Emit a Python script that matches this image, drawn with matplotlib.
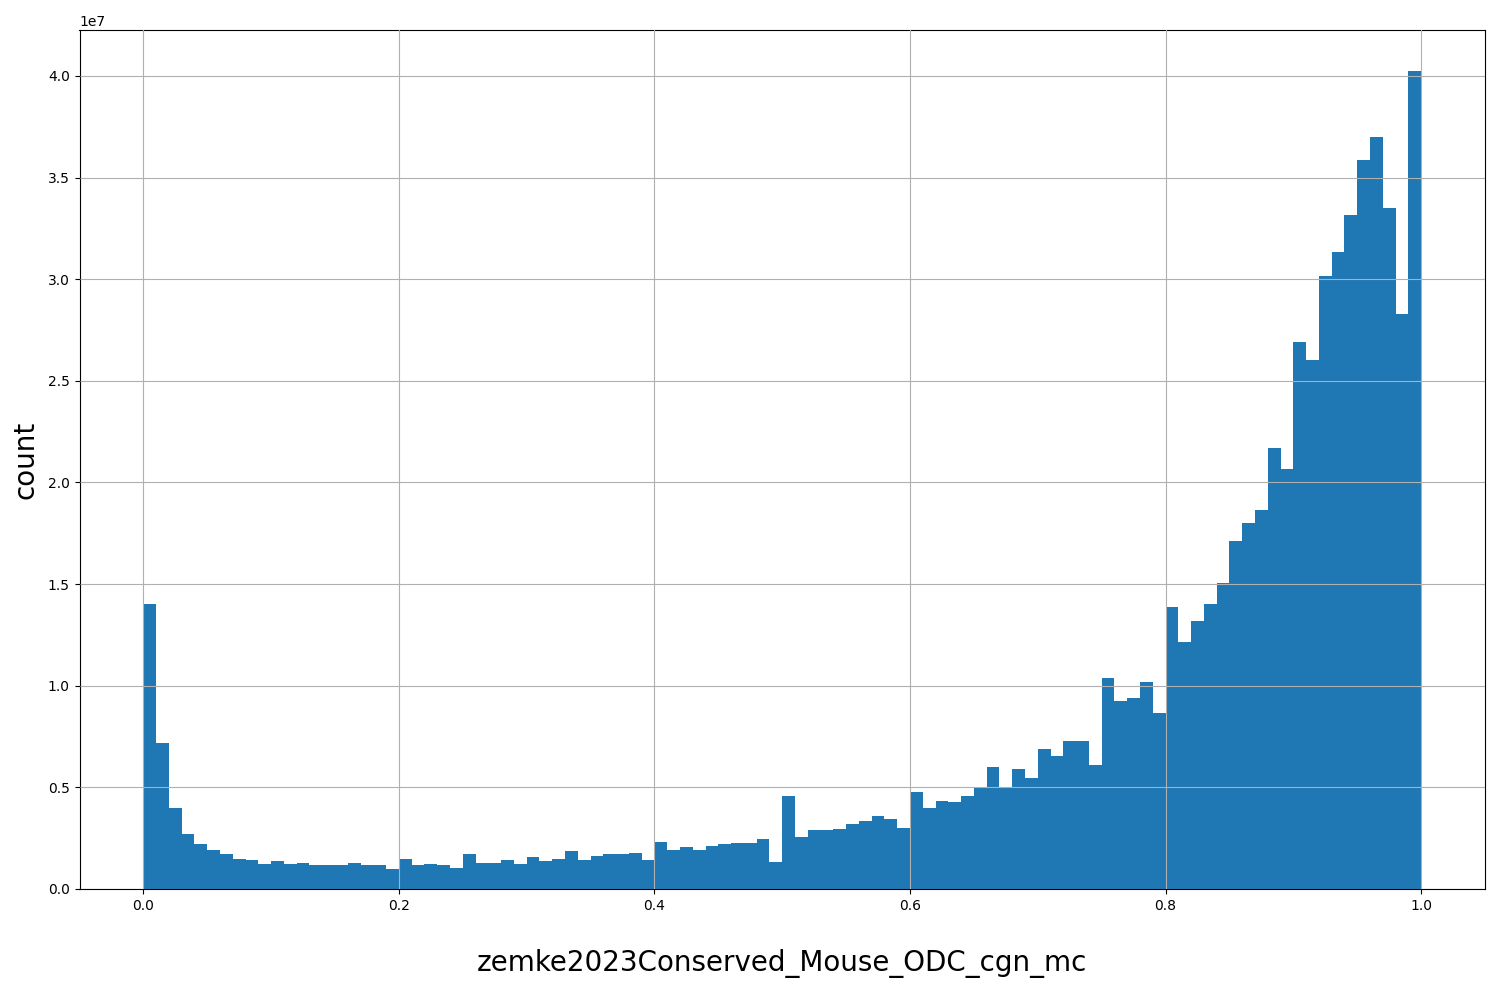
import numpy as np
import matplotlib
matplotlib.use("Agg")
import matplotlib.pyplot as plt

edges = np.linspace(0, 1, 101)
# bar heights in units of 1e7
heights = [
    1.40, 0.72, 0.40, 0.27, 0.22, 0.19, 0.17, 0.15, 0.145, 0.125,
    0.14, 0.125, 0.13, 0.12, 0.12, 0.12, 0.13, 0.12, 0.12, 0.10,
    0.15, 0.12, 0.125, 0.12, 0.105, 0.17, 0.13, 0.13, 0.145, 0.125,
    0.155, 0.14, 0.15, 0.185, 0.145, 0.16, 0.17, 0.17, 0.175, 0.145,
    0.23, 0.19, 0.205, 0.19, 0.21, 0.22, 0.225, 0.225, 0.245, 0.135,
    0.46, 0.255, 0.29, 0.29, 0.295, 0.32, 0.335, 0.36, 0.345, 0.30,
    0.475, 0.40, 0.435, 0.43, 0.46, 0.50, 0.60, 0.50, 0.59, 0.545,
    0.69, 0.655, 0.73, 0.73, 0.61, 1.04, 0.925, 0.94, 1.02, 0.865,
    1.385, 1.215, 1.32, 1.40, 1.505, 1.71, 1.80, 1.865, 2.17, 2.065,
    2.69, 2.605, 3.015, 3.135, 3.315, 3.585, 3.70, 3.35, 2.83, 4.025,
]
counts = np.array(heights) * 1e7
centers = (edges[:-1] + edges[1:]) / 2

fig, ax = plt.subplots(figsize=(15, 10), dpi=100)
fig.subplots_adjust(left=0.053, right=0.99, top=0.97, bottom=0.111)
ax.hist(centers, bins=edges, weights=counts, color="#1f77b4")
ax.grid(True)
ax.set_axisbelow(False)
ax.set_xlabel("zemke2023Conserved_Mouse_ODC_cgn_mc", fontsize=20, labelpad=26)
ax.set_ylabel("count", fontsize=20, labelpad=6)
fig.savefig("out.png")
